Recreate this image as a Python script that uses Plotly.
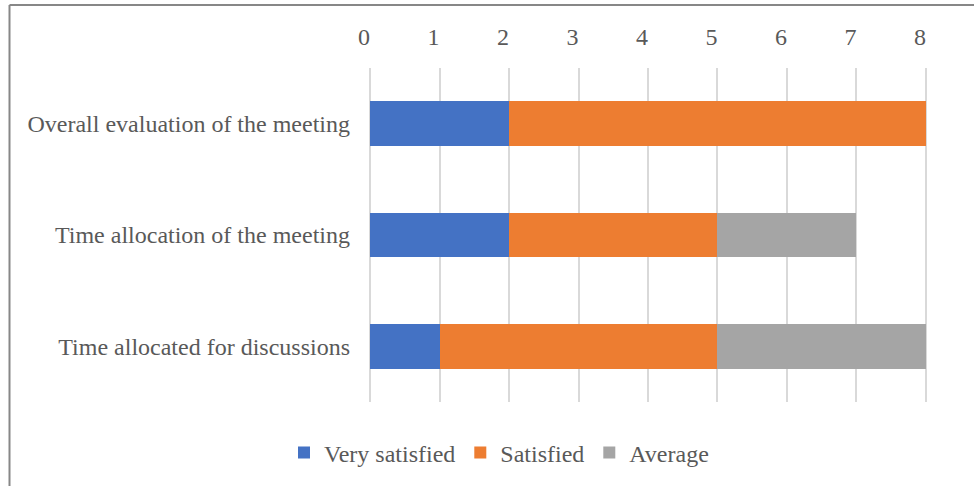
import plotly.graph_objects as go

# Survey categories (top to bottom) and counts per response level
categories = [
    "Overall evaluation of the meeting",
    "Time allocation of the meeting",
    "Time allocated for discussions",
]
very_satisfied = [2, 2, 1]
satisfied = [6, 3, 4]
average = [0, 2, 3]

series = [
    ("Very satisfied", very_satisfied, "#4472C4"),
    ("Satisfied", satisfied, "#ED7D31"),
    ("Average", average, "#A5A5A5"),
]
x_ticks = list(range(0, 9))

W, H = 974, 486
L, R, T, B = 368, 46, 68, 84

fig = go.Figure()
for name, vals, color in series:
    fig.add_trace(go.Bar(
        y=categories, x=vals, name=name, orientation="h",
        marker=dict(color=color, line=dict(width=0)),
        width=0.4,
    ))

font_family = "Liberation Serif"
text_color = "#595959"
font_size = 24

fig.update_layout(
    width=W, height=H,
    barmode="stack",
    margin=dict(l=L, r=R, t=T, b=B, pad=0),
    paper_bgcolor="white",
    plot_bgcolor="white",
    font=dict(family=font_family, size=font_size, color=text_color),
    showlegend=True,
    legend=dict(
        orientation="h",
        xref="container", yref="container",
        x=499 / W, xanchor="center",
        y=1 - 453 / H, yanchor="middle",
        font=dict(family=font_family, size=font_size, color=text_color),
        traceorder="normal",
        itemclick=False,
    ),
    xaxis=dict(
        side="top",
        range=[-0.03, 8.03],
        tickvals=x_ticks,
        showgrid=True, gridcolor="#D9D9D9", gridwidth=2,
        zeroline=False, showline=False,
        ticks="", ticklabelstandoff=17,
        ticklabelshift=-6,
        tickfont=dict(family=font_family, size=font_size, color=text_color),
    ),
    yaxis=dict(
        autorange="reversed",
        showgrid=False, zeroline=False, showline=False,
        ticks="", ticklabelstandoff=17,
        tickfont=dict(family=font_family, size=font_size, color=text_color),
    ),
)

# Chart frame (left and top edges)
def px_x(p):
    return (p - L) / (W - L - R)

def px_y(p):
    return 1 - (p - T) / (H - T - B)

fig.add_shape(type="line", xref="paper", yref="paper",
              x0=px_x(9.5), x1=px_x(980), y0=px_y(5), y1=px_y(5),
              line=dict(color="#878787", width=2), layer="above")
fig.add_shape(type="line", xref="paper", yref="paper",
              x0=px_x(9.5), x1=px_x(9.5), y0=px_y(5), y1=px_y(490),
              line=dict(color="#878787", width=2), layer="above")

fig.write_html("out.html")
